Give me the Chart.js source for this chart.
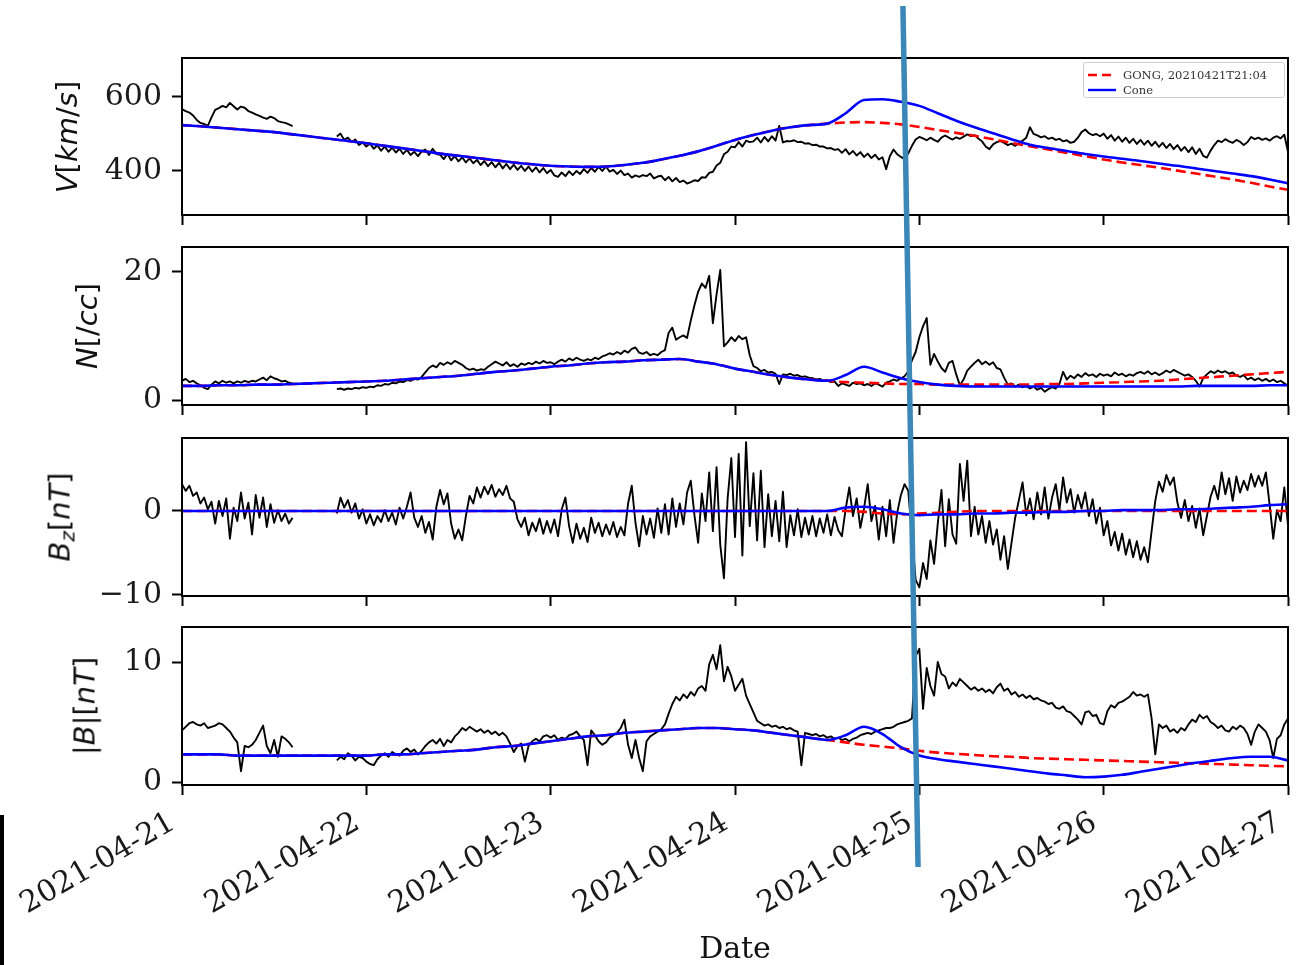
<!DOCTYPE html>
<html>
<head>
<meta charset="utf-8">
<script src="https://cdn.jsdelivr.net/npm/chart.js@4/dist/chart.umd.min.js"></script>
<style>
  html, body { margin: 0; padding: 0; background: #fff; }
  #fig { position: relative; width: 1304px; height: 965px; overflow: hidden; background: #fff; }
  canvas.panel { position: absolute; left: 0; }
  #overlay { position: absolute; left: 0; top: 0; pointer-events: none; }
  .ylab { position: absolute; transform: translate(-50%, -50%) rotate(-90deg); white-space: nowrap;
          font-family: 'DejaVu Sans', sans-serif; font-size: 29px; color: #111; line-height: 1; }
  .ylab i { font-style: italic; }
  .ylab sub { font-size: 20px; vertical-align: -5px; line-height: 0; }
  #xlab { position: absolute; left: 735px; top: 948px; transform: translate(-50%, -50%);
          font-family: 'DejaVu Serif', serif; font-size: 30px; color: #111; white-space: nowrap; line-height: 1; }
  #legend { position: absolute; left: 1083px; top: 62px; width: 202px; height: 36px; box-sizing: border-box;
            border: 1px solid #cfcfcf; border-radius: 3px; background: rgba(255,255,255,0.8);
            font-family: 'DejaVu Serif', serif; font-size: 11.5px; color: #333; }
  #legend .row { position: absolute; left: 4px; height: 14px; display: flex; align-items: center; white-space: nowrap; }
  #legend svg { margin-right: 7px; }
  #edgebar { position: absolute; left: 0; top: 815px; width: 4px; height: 150px; background: #000; }
</style>
</head>
<body>
<div id="fig">
  <div class="ylab" style="left:67px; top:137px;"><i>V</i>[<i>km</i>/<i>s</i>]</div>
  <div class="ylab" style="left:87px; top:326px;"><i>N</i>[/<i>cc</i>]</div>
  <div class="ylab" style="left:60px; top:517px;"><i>B</i><sub><i>z</i></sub>[<i>nT</i>]</div>
  <div class="ylab" style="left:85px; top:706px;">|<i>B</i>|[<i>nT</i>]</div>
  <div id="xlab">Date</div>
  <div id="legend"></div>
  <div id="edgebar"></div>
</div>
<script>
// ---- time axis ----------------------------------------------------------
const dateLabels = ['2021-04-21', '2021-04-22', '2021-04-23', '2021-04-24', '2021-04-25', '2021-04-26', '2021-04-27'];
const dayTicks = [0, 1, 2, 3, 4, 5, 6];
const obsStep = 0.02;    // days between observed samples
const modelStep = 0.1;   // days between model samples
const seriesNames = ['GONG, 20210421T21:04', 'Cone'];

// ---- y tick values per panel ---------------------------------------------
const vTicks = [400, 600];
const nTicks = [0, 20];
const bzTicks = [-10, 0];
const bTicks = [0, 10];

// ---- observed solar wind speed [km/s] ------------------------------------
const vObs = [
  567,562,558,550,538,530,527,522,545,565,
  570,576,572,584,575,566,574,571,562,558,
  553,549,544,541,547,543,535,532,530,526,
  521,null,null,null,null,null,null,null,null,null,
  null,null,493,501,484,490,478,485,470,477,
  466,474,460,469,455,466,452,463,450,460,
  446,457,443,452,440,453,458,443,460,446,
  444,432,446,429,440,426,437,423,434,421,
  430,416,427,413,424,410,422,407,419,405,
  417,403,414,400,412,398,410,396,408,394,
  403,388,384,396,386,399,389,400,392,405,
  395,408,398,411,400,412,398,403,392,401,
  389,393,382,388,384,389,386,393,380,385,
  387,375,384,372,381,370,374,366,370,375,
  373,383,382,395,398,415,422,445,452,466,
  464,478,466,482,478,480,490,477,492,480,
  494,482,522,477,481,480,483,478,479,474,
  475,470,471,466,466,461,462,457,459,449,
  459,445,454,442,451,438,447,435,444,431,
  437,405,440,458,445,438,432,448,468,485,
  492,488,483,490,484,479,490,496,490,485,
  491,487,493,499,494,497,488,480,466,459,
  472,478,481,476,470,474,468,475,482,490,
  518,500,496,491,494,487,490,484,487,480,
  483,476,479,490,505,512,502,497,500,494,
  501,487,497,482,493,479,490,476,487,473,
  484,471,482,468,479,465,476,462,473,459,
  470,455,465,451,464,446,460,441,436,455,
  470,482,478,486,480,476,484,479,470,478,
  492,486,490,484,488,482,490,494,488,498,
  452
];
const vGong = [
  524,521,517,513,509,505,499,493,487,481,
  475,468,461,454,447,441,435,429,423,418,
  414,412,411,412,416,422,431,441,453,468,
  484,497,509,518,524,528,531,532,530,526,
  519,511,503,495,486,476,467,458,449,440,
  431,423,416,409,401,393,385,377,368,358,
  349
];
const vCone = [
  524,521,517,513,509,505,499,493,487,481,
  475,468,461,454,447,441,435,429,423,418,
  414,412,411,412,416,422,431,441,453,468,
  484,497,509,518,524,528,556,592,594,587,
  576,556,536,518,502,486,471,462,454,446,
  439,433,427,420,414,407,400,393,386,377,
  367
];

// ---- observed proton density [/cc] ---------------------------------------
const nObs = [
  3.0,3.3,2.8,3.0,2.6,2.3,1.9,1.7,2.4,2.9,
  2.6,3.0,2.7,2.9,2.6,2.9,2.7,3.0,2.8,3.0,
  2.9,3.2,3.5,3.1,3.7,3.4,3.2,2.9,3.0,2.7,
  2.6,null,null,null,null,null,null,null,null,null,
  null,null,1.7,1.8,1.6,1.8,1.7,1.9,1.8,2.0,
  1.9,2.1,2.0,2.3,2.2,2.5,2.4,2.7,2.6,2.9,
  2.8,3.1,3.0,3.3,3.2,3.6,4.3,5.0,5.4,5.1,
  5.8,5.5,5.9,5.6,6.1,5.8,5.5,5.0,4.7,4.9,
  4.6,4.8,4.7,5.2,5.6,6.0,5.7,5.4,5.9,5.3,
  5.6,5.2,5.7,5.5,5.8,5.6,6.0,5.7,6.1,5.8,
  5.9,5.6,6.0,6.3,6.0,6.5,6.2,6.6,6.3,6.1,
  6.4,6.2,6.6,6.4,6.8,7.0,7.3,7.1,7.5,7.2,
  7.7,7.4,8.0,8.2,7.4,7.2,7.5,7.0,7.2,7.0,
  7.5,7.8,10.5,11.3,9.4,9.8,10.1,9.7,12.4,14.8,
  16.9,18.2,17.5,19.4,12.0,16.5,20.3,8.4,9.0,9.8,
  9.2,10.0,9.5,9.8,7.0,5.3,5.0,4.5,4.7,4.3,
  4.4,4.1,2.5,4.0,3.9,4.1,3.8,3.9,3.6,3.7,
  3.5,3.4,3.2,3.3,3.0,3.1,2.8,2.9,2.2,2.6,
  2.4,2.2,2.7,2.5,2.6,2.3,2.5,2.2,2.6,2.4,
  2.1,2.7,2.9,3.2,3.0,3.4,3.7,4.5,6.2,7.5,
  9.8,11.5,12.8,5.5,7.2,6.0,5.0,4.4,5.8,6.1,
  4.0,2.3,3.2,4.6,5.2,5.8,6.3,5.6,6.0,5.5,
  5.9,5.0,4.8,3.5,2.4,2.6,2.1,2.4,2.0,2.2,
  1.8,2.1,1.6,1.9,1.3,1.7,2.0,1.8,2.5,4.4,
  3.2,3.8,3.4,4.0,3.6,4.2,3.8,4.0,3.6,4.1,
  3.8,4.0,3.7,4.3,3.9,4.1,3.7,4.0,3.8,4.2,
  4.4,4.1,4.5,4.0,4.3,3.9,4.2,4.6,4.3,4.7,
  4.4,4.1,3.8,4.0,3.6,3.0,2.1,3.4,4.0,4.5,
  4.2,4.6,4.3,4.5,4.1,4.3,3.8,3.6,3.9,3.2,
  3.5,3.1,3.4,3.0,3.3,2.9,3.2,2.8,3.0,2.6,
  2.2
];
const nGong = [
  2.2,2.2,2.3,2.3,2.4,2.4,2.5,2.6,2.7,2.8,
  2.9,3.0,3.2,3.4,3.6,3.8,4.1,4.4,4.6,4.9,
  5.2,5.4,5.7,5.9,6.0,6.2,6.3,6.4,6.0,5.6,
  4.9,4.4,3.9,3.5,3.2,3.0,2.8,2.7,2.6,2.5,
  2.5,2.4,2.4,2.4,2.4,2.4,2.4,2.5,2.5,2.6,
  2.7,2.8,2.9,3.0,3.2,3.4,3.6,3.8,4.0,4.2,
  4.4
];
const nCone = [
  2.2,2.2,2.3,2.3,2.4,2.4,2.5,2.6,2.7,2.8,
  2.9,3.0,3.2,3.4,3.6,3.8,4.1,4.4,4.6,4.9,
  5.2,5.4,5.7,5.9,6.0,6.2,6.3,6.4,6.0,5.6,
  4.9,4.4,3.9,3.5,3.2,3.0,3.9,5.2,4.3,3.4,
  2.8,2.4,2.2,2.1,2.1,2.1,2.1,2.1,2.1,2.1,
  2.1,2.1,2.1,2.1,2.1,2.2,2.2,2.2,2.2,2.3,
  2.3
];

// ---- observed Bz [nT] ----------------------------------------------------
const bzObs = [
  3.2,2.4,3.0,1.8,2.2,0.9,1.6,0.2,1.1,-1.5,
  1.2,-0.6,1.5,-3.3,0.4,-1.2,2.2,-0.9,1.0,-2.8,
  1.9,-0.8,1.6,-1.9,0.8,-1.4,0.1,-1.2,-0.3,-1.5,
  -0.8,null,null,null,null,null,null,null,null,null,
  null,null,-0.3,1.6,0.4,1.3,-0.2,0.9,-0.9,0.2,
  -1.5,-0.4,-1.7,-0.6,-1.3,0.1,-1.2,-0.2,-1.6,0.4,
  -0.9,0.5,2.2,-0.8,-1.9,-0.6,-2.6,-1.3,-3.4,0.5,
  2.5,0.8,2.1,-1.5,-3.3,-2.2,-3.5,-0.6,1.8,0.9,
  2.8,1.6,2.9,2.0,3.1,1.7,2.6,1.9,3.0,1.5,
  1.1,-1.0,-1.9,-0.8,-2.9,-1.4,-2.4,-0.9,-2.7,-1.2,
  -2.6,-1.0,-3.0,0.2,1.6,-1.8,-3.8,-1.5,-3.3,-2.0,
  -3.7,-0.8,-2.6,-1.4,-3.0,-1.6,-2.8,-1.3,-3.1,-1.9,
  -2.9,0.9,3.0,-1.4,-4.2,-0.6,-2.8,-0.9,-3.2,0.3,
  -2.6,0.8,-2.8,1.5,-1.9,0.9,-1.6,2.2,3.6,-0.5,
  -3.8,2.1,-1.2,4.6,-2.4,5.2,-4.0,-8.0,1.5,6.3,
  -3.1,6.8,-5.3,8.2,-1.8,4.5,-3.5,4.8,-4.3,2.0,
  -3.0,1.2,-3.6,2.3,-4.3,-0.5,-2.9,0.2,-3.1,-0.8,
  -2.8,-0.6,-3.0,-0.9,-2.6,-0.4,-2.9,-0.7,-2.3,-3.0,
  0.2,2.8,-0.6,1.5,-2.0,0.3,3.2,-1.2,0.6,-3.4,
  0.5,-3.0,1.3,-3.8,-0.2,1.9,3.2,2.4,-3.0,-8.2,
  -9.1,-6.2,-8.1,-3.5,-6.3,-1.5,2.5,-4.2,1.4,-2.8,
  -3.9,5.6,1.2,6.0,-3.0,0.5,-2.8,-0.6,-3.8,-1.2,
  -4.0,-2.2,-5.8,-3.0,-6.9,-3.8,-0.8,1.3,3.4,-0.5,
  1.5,-1.0,2.2,-0.4,2.8,-0.9,1.6,3.2,0.1,4.0,
  1.0,2.6,-0.2,1.9,0.3,2.2,-0.6,1.4,-1.5,0.4,
  -2.9,-1.2,-4.1,-2.5,-4.7,-2.7,-5.2,-3.4,-5.5,-3.6,
  -5.8,-4.3,-6.1,-2.4,1.2,3.5,2.3,4.3,3.1,4.0,
  1.0,-0.8,1.3,-1.2,0.6,-2.0,0.3,-2.9,-0.6,1.7,
  3.0,1.4,4.6,2.0,3.9,1.2,4.1,2.2,3.6,2.5,
  4.4,2.9,4.2,3.0,4.6,0.8,-3.3,0.1,-1.2,2.8,
  -1.7
];
const bzGong = [
  0,0,0,0,0,0,0,0,0,0,
  0,0,0,0,0,0,0,0,0,0,
  0,0,0,0,0,0,0,0,0,0,
  0,0,0,0,0,0,0,-0.1,-0.3,-0.4,
  -0.3,-0.2,-0.1,0,0,0,0,0,0,0,
  0,0,0,0,0,0,0,0,0,0,
  0
];
const bzCone = [
  0,0,0,0,0,0,0,0,0,0,
  0,0,0,0,0,0,0,0,0,0,
  0,0,0,0,0,0,0,0,0,0,
  0,0,0,0,0,0,0.4,0.5,0.2,-0.3,
  -0.5,-0.4,-0.4,-0.3,-0.3,-0.2,-0.2,-0.1,-0.1,0,
  0,0.1,0.1,0.1,0.2,0.2,0.3,0.4,0.5,0.7,
  0.8
];

// ---- observed |B| [nT] ---------------------------------------------------
const bObs = [
  4.3,4.6,4.9,5.0,4.8,4.7,4.9,4.5,4.6,4.7,
  4.9,4.8,4.5,4.2,3.7,3.3,0.9,3.0,2.9,3.1,
  3.5,4.1,4.7,3.0,2.4,3.5,2.1,3.8,3.6,3.3,
  2.9,null,null,null,null,null,null,null,null,null,
  null,null,1.8,2.1,1.9,2.4,2.2,1.8,2.1,2.0,
  1.7,1.5,1.4,1.9,2.2,2.4,2.1,2.5,2.3,2.2,
  2.6,2.8,2.5,2.7,2.3,2.6,3.0,3.3,3.5,3.2,
  3.6,3.0,3.5,3.3,3.8,4.1,4.5,4.3,4.6,4.4,
  4.2,4.4,4.1,4.3,4.0,4.2,3.9,4.1,3.8,3.2,
  2.5,3.0,3.2,1.7,3.0,3.4,3.6,3.4,3.8,3.9,
  3.7,3.9,3.5,3.7,3.6,3.9,4.0,4.2,3.8,3.5,
  1.4,4.3,3.9,3.4,3.1,3.3,3.7,3.9,4.1,4.5,
  5.2,3.1,2.0,3.5,2.0,0.9,3.4,3.8,4.0,4.2,
  4.4,4.8,5.7,6.5,7.1,6.8,7.3,7.0,7.5,7.2,
  7.8,8.0,7.6,9.8,10.6,9.4,11.4,8.4,9.6,8.8,
  7.6,8.1,8.6,7.2,6.5,5.8,5.1,4.9,4.7,4.8,
  4.6,4.7,4.5,4.6,4.4,4.5,4.3,4.2,1.4,4.1,
  4.0,3.9,4.0,3.8,3.9,3.7,3.8,3.6,3.7,3.5,
  3.6,3.4,3.6,3.7,3.9,4.0,4.1,4.0,4.2,4.3,
  4.4,4.5,4.5,4.6,4.8,4.9,5.0,5.1,5.3,10.5,
  11.1,6.1,9.5,8.0,7.2,10.0,9.0,8.8,7.8,8.3,
  8.0,8.6,8.3,8.0,7.7,7.9,7.6,7.8,7.5,7.7,
  7.4,7.9,8.2,7.6,7.8,7.3,7.5,7.1,7.3,7.0,
  7.2,6.9,7.0,6.8,6.7,6.5,6.6,6.2,6.1,6.3,
  5.9,5.8,5.5,5.2,4.8,5.8,5.9,5.5,5.6,4.9,
  4.8,5.9,6.4,6.2,6.6,6.7,6.9,7.1,7.5,7.2,
  7.3,7.1,7.3,5.3,2.3,4.8,4.5,4.7,4.2,4.4,
  4.1,4.5,4.3,4.8,5.2,5.0,5.6,5.3,5.5,5.0,
  4.8,4.5,4.7,4.3,4.2,4.6,4.4,4.7,4.5,4.0,
  3.1,4.2,4.8,4.5,4.2,3.5,2.0,3.6,3.9,4.8,
  5.3
];
const bGong = [
  2.3,2.3,2.3,2.2,2.2,2.2,2.2,2.2,2.2,2.2,
  2.2,2.3,2.3,2.4,2.5,2.6,2.7,2.9,3.0,3.2,
  3.4,3.6,3.8,3.9,4.1,4.2,4.3,4.4,4.5,4.5,
  4.4,4.3,4.1,3.9,3.7,3.5,3.3,3.1,2.95,2.8,
  2.6,2.45,2.35,2.25,2.15,2.1,2.0,1.95,1.9,1.85,
  1.8,1.75,1.7,1.65,1.6,1.55,1.5,1.45,1.4,1.35,
  1.3
];
const bCone = [
  2.3,2.3,2.3,2.2,2.2,2.2,2.2,2.2,2.2,2.2,
  2.2,2.3,2.3,2.4,2.5,2.6,2.7,2.9,3.0,3.2,
  3.4,3.6,3.8,3.9,4.1,4.2,4.3,4.4,4.5,4.5,
  4.4,4.3,4.1,3.9,3.7,3.5,3.9,4.6,4.0,2.9,
  2.2,1.9,1.7,1.5,1.3,1.1,0.9,0.7,0.55,0.4,
  0.45,0.6,0.85,1.1,1.35,1.6,1.8,2.0,2.1,2.1,
  1.8
];

// day positions of the hand-drawn marker line at its top and bottom ends
const markerDays = [3.911, 3.993];

// ---- layout --------------------------------------------------------------
const FIG_H = 965;
const CANVAS_W = 1350;
const PAD_TOP = 40;
const Y_AXIS_W = 182;
const PLOT_RIGHT = 1288;
const FONT = { family: "'DejaVu Serif', serif", size: 30 };
const COLORS = { obs: '#000000', gong: '#ff0000', cone: '#0000ff' };

const panels = [
  { top: 58,  bottom: 215, min: 281,    max: 705.4, ticks: vTicks,  obs: vObs,  gong: vGong,  cone: vCone },
  { top: 247, bottom: 405, min: -0.78,  max: 23.9,  ticks: nTicks,  obs: nObs,  gong: nGong,  cone: nCone },
  { top: 438, bottom: 596, min: -10.12, max: 8.69,  ticks: bzTicks, obs: bzObs, gong: bzGong, cone: bzCone },
  { top: 627, bottom: 785, min: -0.25,  max: 12.92, ticks: bTicks,  obs: bObs,  gong: bGong,  cone: bCone }
];

const toPoints = (arr, step) => arr.map((v, i) => ({ x: Math.round(i * step * 1000) / 1000, y: v }));
const fmtTick = v => (v < 0 ? '\u2212' + Math.abs(v) : String(v));

// Draws the full rectangular frame around each plot area
const framePlugin = {
  id: 'frame',
  afterDatasetsDraw(chart) {
    const { ctx, chartArea: a } = chart;
    ctx.save();
    ctx.strokeStyle = '#000';
    ctx.lineWidth = 2;
    ctx.strokeRect(a.left, a.top, a.right - a.left, a.bottom - a.top);
    ctx.restore();
  }
};

const fig = document.getElementById('fig');
const charts = [];

panels.forEach((p, idx) => {
  const last = idx === panels.length - 1;
  const canvasTop = p.top - PAD_TOP;
  const axisH = last ? (FIG_H - p.bottom) : 36;
  const height = PAD_TOP + (p.bottom - p.top) + axisH;

  const canvas = document.createElement('canvas');
  canvas.className = 'panel';
  canvas.width = CANVAS_W;
  canvas.height = height;
  canvas.style.width = CANVAS_W + 'px';
  canvas.style.height = height + 'px';
  canvas.style.top = canvasTop + 'px';
  fig.insertBefore(canvas, fig.firstChild);

  const chart = new Chart(canvas, {
    type: 'line',
    data: {
      datasets: [
        { label: seriesNames[1], data: toPoints(p.cone, modelStep), borderColor: COLORS.cone,
          borderWidth: 2.6, cubicInterpolationMode: 'monotone' },
        { label: seriesNames[0], data: toPoints(p.gong, modelStep), borderColor: COLORS.gong,
          borderWidth: 2.6, borderDash: [10, 5], cubicInterpolationMode: 'monotone' },
        { label: 'observed', data: toPoints(p.obs, obsStep), borderColor: COLORS.obs,
          borderWidth: 1.9, spanGaps: false }
      ]
    },
    options: {
      responsive: false,
      animation: false,
      devicePixelRatio: 1,
      events: [],
      elements: { point: { radius: 0 }, line: { borderJoinStyle: 'round' } },
      layout: { padding: { top: PAD_TOP, right: CANVAS_W - PLOT_RIGHT, bottom: 0, left: 0 } },
      plugins: { legend: { display: false }, tooltip: { enabled: false } },
      scales: {
        x: {
          type: 'linear', min: 0, max: 6,
          afterBuildTicks: s => { s.ticks = dayTicks.map(v => ({ value: v })); },
          afterFit: s => { s.height = axisH; },
          grid: { drawOnChartArea: false, drawTicks: true, tickLength: 10, tickWidth: 2, tickColor: '#000' },
          border: { display: true, color: '#000', width: 2 },
          ticks: {
            display: last, autoSkip: false, minRotation: 30, maxRotation: 30, padding: 10, labelOffset: -9,
            font: FONT, color: '#1a1a1a',
            callback: (v, i) => dateLabels[i]
          }
        },
        y: {
          type: 'linear', min: p.min, max: p.max,
          afterBuildTicks: s => { s.ticks = p.ticks.map(v => ({ value: v })); },
          afterFit: s => { s.width = Y_AXIS_W; },
          grid: { drawOnChartArea: false, drawTicks: true, tickLength: 10, tickWidth: 2, tickColor: '#000' },
          border: { display: true, color: '#000', width: 2 },
          ticks: { padding: 10, font: FONT, color: '#1a1a1a', callback: v => fmtTick(v) }
        }
      }
    },
    plugins: [framePlugin]
  });
  charts.push(chart);
});

// ---- legend inside the top panel -----------------------------------------
const legend = document.getElementById('legend');
[
  { name: seriesNames[0], color: COLORS.gong, dash: '9,5', top: 5 },
  { name: seriesNames[1], color: COLORS.cone, dash: 'none', top: 20 }
].forEach(e => {
  const row = document.createElement('div');
  row.className = 'row';
  row.style.top = e.top + 'px';
  row.innerHTML = '<svg width="28" height="6"><line x1="0" y1="3" x2="28" y2="3" stroke="' + e.color +
    '" stroke-width="2.4" stroke-dasharray="' + e.dash + '"/></svg>';
  const span = document.createElement('span');
  span.textContent = e.name;
  row.appendChild(span);
  legend.appendChild(row);
});

// ---- slanted marker line drawn across all panels ---------------------------
const overlay = document.createElement('canvas');
overlay.id = 'overlay';
overlay.width = 1304;
overlay.height = FIG_H;
fig.appendChild(overlay);
const xScale = charts[charts.length - 1].scales.x;
const octx = overlay.getContext('2d');
octx.strokeStyle = '#3b87b7';
octx.lineWidth = 5.5;
octx.beginPath();
octx.moveTo(xScale.getPixelForValue(markerDays[0]), 6);
octx.lineTo(xScale.getPixelForValue(markerDays[1]), 867);
octx.stroke();
</script>
</body>
</html>
